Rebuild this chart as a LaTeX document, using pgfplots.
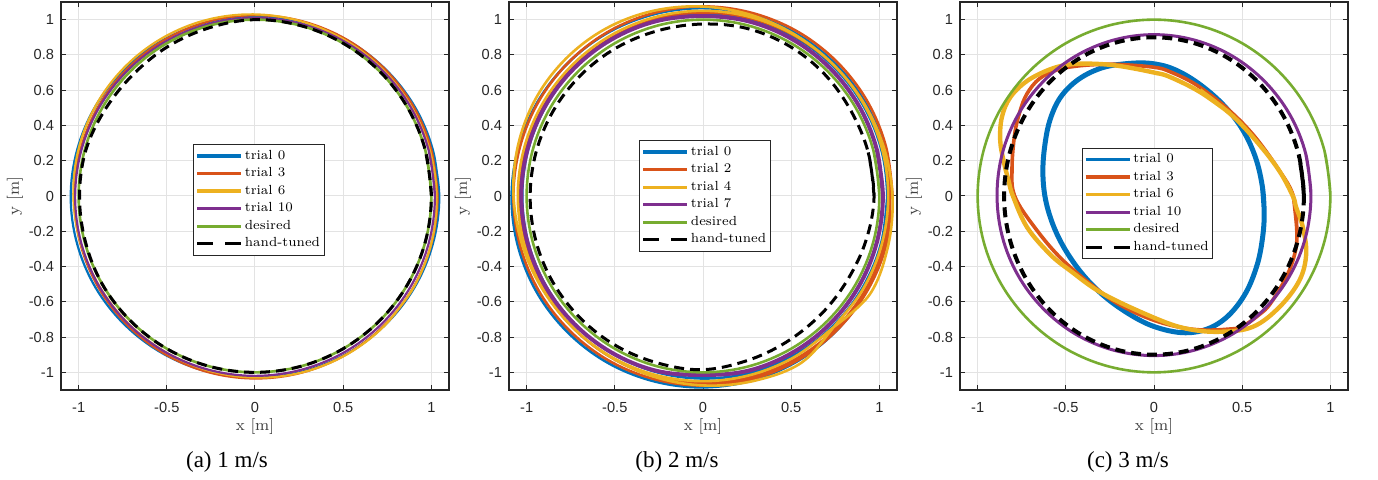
\documentclass[border=0pt]{standalone}
\usepackage{fontspec}
\usepackage{pgfplots}
\usepackage{pgfplotstable}
\pgfplotsset{compat=1.18}
\newfontfamily\ticksans{Liberation Sans}
\newfontfamily\capserif{Liberation Serif}
\definecolor{mblue}{HTML}{0072BD}
\definecolor{morange}{HTML}{D95319}
\definecolor{myellow}{HTML}{EDB120}
\definecolor{mpurple}{HTML}{7E2F8E}
\definecolor{mgreen}{HTML}{77AC30}
\definecolor{maxis}{HTML}{262626}
\definecolor{mgrid}{HTML}{E3E3E3}

% desired path: unit circle, sampled every 15 deg
\pgfplotstableread{
x y
1 0
0.966 0.259
0.866 0.5
0.707 0.707
0.5 0.866
0.259 0.966
0 1
-0.259 0.966
-0.5 0.866
-0.707 0.707
-0.866 0.5
-0.966 0.259
-1 0
-0.966 -0.259
-0.866 -0.5
-0.707 -0.707
-0.5 -0.866
-0.259 -0.966
0 -1
0.259 -0.966
0.5 -0.866
0.707 -0.707
0.866 -0.5
0.966 -0.259
1 0
0.966 0.259
}\desired

\pgfplotsset{
  circpanel/.style={
    scale only axis, width=194pt, height=194pt,
    xmin=-1.1, xmax=1.1, ymin=-1.1, ymax=1.1,
    xtick={-1,-0.5,0,0.5,1},
    ytick={-1,-0.8,-0.6,-0.4,-0.2,0,0.2,0.4,0.6,0.8,1},
    grid=major, grid style={mgrid, line width=0.5pt},
    axis line style={maxis, line width=0.6pt},
    tick style={maxis, line width=0.5pt},
    tick align=inside, major tick length=2.5pt,
    tick label style={font=\ticksans\fontsize{7.3}{8}\selectfont, text=maxis},
    /pgf/number format/assume math mode=true,
    xticklabel style={yshift=-2.5pt},
    xlabel={x [m]}, ylabel={y [m]},
    label style={font=\fontsize{8}{9}\selectfont, text=black!75},
    xlabel style={at={(axis description cs:0.5,-0.093)}, anchor=center},
    ylabel style={at={(axis description cs:-0.119,0.5)}, anchor=center},
    legend style={font=\fontsize{6.6}{8}\selectfont, draw=maxis, line width=0.5pt,
      fill=white, anchor=center, inner xsep=1pt, inner ysep=1.3pt, row sep=0pt,
      nodes={inner xsep=1.1pt, inner ysep=1.35pt},
      cells={anchor=west}},
    legend image code/.code={\draw[#1,line width=1.6pt] (0pt,0pt) -- (22pt,0pt);},
    every axis plot/.append style={smooth, tension=0.6, no markers},
  },
  tuned/.style={black, line width=#1, dash pattern=on 5pt off 3pt,
    legend image code/.code={\draw[black,line width=1.6pt,dash pattern=on 8pt off 6pt] (0pt,0pt) -- (22pt,0pt);}},
}

\begin{document}
\begin{tikzpicture}
\path[use as bounding box] (0,0) rectangle (689pt,-240pt);

% ---------------- (a) 1 m/s
\begin{axis}[circpanel, at={(30.5pt,-1pt)}, anchor=north west,
  legend style={at={(0.51,0.49)}}]
\addplot[mblue, line width=1.1pt] coordinates {(1.045,-0.005) (1.009,0.260) (0.905,0.508) (0.739,0.720) (0.523,0.883) (0.271,0.985) (0,1.02) (-0.271,0.985) (-0.523,0.883) (-0.739,0.720) (-0.905,0.508) (-1.009,0.260) (-1.045,-0.005) (-1.009,-0.270) (-0.905,-0.518) (-0.739,-0.730) (-0.523,-0.893) (-0.271,-0.995) (0,-1.03) (0.271,-0.995) (0.523,-0.893) (0.739,-0.730) (0.905,-0.518) (1.009,-0.270) (1.045,-0.005) (1.009,0.260)};
\addlegendentry{trial 0}
\addplot[morange, line width=1.1pt] coordinates {(1.035,-0.005) (1.0,0.262) (0.897,0.51) (0.733,0.723) (0.52,0.887) (0.272,0.99) (0.005,1.025) (-0.262,0.99) (-0.51,0.887) (-0.723,0.723) (-0.887,0.51) (-0.99,0.262) (-1.025,-0.005) (-0.99,-0.272) (-0.887,-0.52) (-0.723,-0.733) (-0.51,-0.897) (-0.262,-1.0) (0.005,-1.035) (0.272,-1.0) (0.52,-0.897) (0.733,-0.733) (0.897,-0.52) (1.0,-0.272) (1.035,-0.005) (1.0,0.262)};
\addlegendentry{trial 3}
\addplot[myellow, line width=1.1pt] coordinates {(0.735,-0.735) (0.897,-0.523) (0.998,-0.276) (1.030,-0.010) (0.992,0.256) (0.886,0.506) (0.721,0.721) (0.506,0.886) (0.256,0.992) (-0.010,1.030) (-0.276,0.998) (-0.523,0.897) (-0.735,0.735) (-0.897,0.523) (-0.998,0.276) (-1.030,0.010) (-0.992,-0.256) (-0.886,-0.506) (-0.721,-0.721) (-0.506,-0.886) (-0.256,-0.992) (0.010,-1.030) (0.276,-0.998) (0.523,-0.897) (0.735,-0.735) (0.897,-0.523)};
\addlegendentry{trial 6}
\addplot[mpurple, line width=1.1pt] coordinates {(1.02,-0.005) (0.985,0.258) (0.883,0.503) (0.721,0.713) (0.51,0.874) (0.264,0.975) (0,1.01) (-0.264,0.975) (-0.51,0.874) (-0.721,0.713) (-0.883,0.503) (-0.985,0.258) (-1.02,-0.005) (-0.985,-0.268) (-0.883,-0.513) (-0.721,-0.723) (-0.51,-0.884) (-0.264,-0.985) (0,-1.02) (0.264,-0.985) (0.51,-0.884) (0.721,-0.723) (0.883,-0.513) (0.985,-0.268) (1.02,-0.005) (0.985,0.258)};
\addlegendentry{trial 10}
\addplot[mgreen, line width=1.3pt] table {\desired};
\addlegendentry{desired}
\addplot[tuned=1.5pt] coordinates {(1,0) (0.966,0.259) (0.866,0.5) (0.707,0.707) (0.5,0.866) (0.259,0.966) (0,1) (-0.255,0.955) (-0.49,0.85) (-0.69,0.69) (-0.85,0.49) (-0.96,0.257) (-0.995,0) (-0.962,-0.258) (-0.866,-0.5) (-0.707,-0.707) (-0.5,-0.866) (-0.259,-0.966) (0,-1) (0.259,-0.966) (0.5,-0.866) (0.707,-0.707) (0.866,-0.5) (0.966,-0.259) (1,0) (0.966,0.259)};
\addlegendentry{hand-tuned}
\end{axis}

% ---------------- (b) 2 m/s
\begin{axis}[circpanel, at={(254.5pt,-1pt)}, anchor=north west,
  legend style={at={(0.505,0.5)}}]
\addplot[mblue, line width=1.3pt] coordinates {(1.065,-0.01) (1.028,0.268) (0.921,0.528) (0.75,0.75) (0.528,0.921) (0.268,1.028) (-0.01,1.065) (-0.288,1.028) (-0.548,0.921) (-0.77,0.75) (-0.941,0.528) (-1.048,0.268) (-1.085,-0.01) (-1.048,-0.288) (-0.941,-0.548) (-0.77,-0.77) (-0.548,-0.941) (-0.288,-1.048) (-0.01,-1.085) (0.268,-1.048) (0.528,-0.941) (0.75,-0.77) (0.921,-0.548) (1.028,-0.288) (1.045,0) (1.01,0.268) (0.906,0.518) (0.742,0.732) (0.528,0.896) (0.278,1.0) (0.01,1.035) (-0.258,1.0) (-0.508,0.896) (-0.722,0.732) (-0.886,0.518) (-0.99,0.268) (-1.025,0) (-0.99,-0.268) (-0.886,-0.518) (-0.722,-0.732) (-0.508,-0.896) (-0.258,-1.0) (0.01,-1.035) (0.278,-1.0) (0.528,-0.896) (0.742,-0.732) (0.906,-0.518) (1.01,-0.268) (1.045,0)};
\addlegendentry{trial 0}
\addplot[morange, line width=1.3pt] coordinates {(1.075,0) (1.038,0.278) (0.931,0.538) (0.76,0.76) (0.538,0.931) (0.278,1.038) (0,1.075) (-0.278,1.038) (-0.538,0.931) (-0.76,0.76) (-0.931,0.538) (-1.038,0.278) (-1.075,0) (-1.038,-0.278) (-0.931,-0.538) (-0.76,-0.76) (-0.538,-0.931) (-0.278,-1.038) (0,-1.075) (0.278,-1.038) (0.538,-0.931) (0.76,-0.76) (0.931,-0.538) (1.038,-0.278) (1.06,-0.01) (1.024,0.262) (0.919,0.515) (0.752,0.732) (0.535,0.899) (0.282,1.004) (0.01,1.04) (-0.262,1.004) (-0.515,0.899) (-0.732,0.732) (-0.899,0.515) (-1.004,0.262) (-1.04,-0.01) (-1.004,-0.282) (-0.899,-0.535) (-0.732,-0.752) (-0.515,-0.919) (-0.262,-1.024) (0.01,-1.06) (0.282,-1.024) (0.535,-0.919) (0.752,-0.752) (0.919,-0.535) (1.024,-0.282) (1.06,-0.01)};
\addlegendentry{trial 2}
\addplot[myellow, line width=1.3pt] coordinates {(0.742,-0.742) (0.944,-0.560) (1.045,-0.303) (1.075,-0.025) (1.032,0.254) (0.918,0.516) (0.742,0.742) (0.516,0.918) (0.254,1.032) (-0.025,1.075) (-0.303,1.045) (-0.560,0.944) (-0.778,0.778) (-0.944,0.560) (-1.045,0.303) (-1.075,0.025) (-1.032,-0.254) (-0.918,-0.516) (-0.742,-0.742) (-0.516,-0.918) (-0.254,-1.032) (0.025,-1.075) (0.303,-1.045) (0.560,-0.944) (0.742,-0.742) (0.909,-0.525) (1.014,-0.272) (1.05,0) (1.014,0.272) (0.909,0.525) (0.742,0.742) (0.525,0.909) (0.272,1.014) (0,1.05) (-0.272,1.014) (-0.525,0.909) (-0.742,0.742) (-0.909,0.525) (-1.014,0.272) (-1.05,0) (-1.014,-0.272) (-0.909,-0.525) (-0.742,-0.742) (-0.525,-0.909) (-0.272,-1.014) (0,-1.05) (0.272,-1.014) (0.525,-0.909) (0.742,-0.742)};
\addlegendentry{trial 4}
\addplot[mpurple, line width=2pt] coordinates {(1.02,0) (0.985,0.265) (0.883,0.513) (0.72,0.725) (0.508,0.888) (0.26,0.99) (-0.005,1.02) (-0.27,0.99) (-0.518,0.888) (-0.73,0.725) (-0.893,0.513) (-0.995,0.265) (-1.03,0) (-0.995,-0.265) (-0.893,-0.513) (-0.73,-0.725) (-0.518,-0.888) (-0.27,-0.99) (-0.005,-1.015) (0.26,-0.99) (0.508,-0.888) (0.72,-0.725) (0.883,-0.513) (0.985,-0.265) (1.02,0) (0.985,0.265)};
\addlegendentry{trial 7}
\addplot[mgreen, line width=1.3pt] table {\desired};
\addlegendentry{desired}
\addplot[tuned=1.5pt] coordinates {(0.970,-0.005) (0.937,0.247) (0.839,0.483) (0.69,0.69) (0.49,0.85) (0.25,0.95) (-0.005,0.975) (-0.257,0.937) (-0.493,0.839) (-0.694,0.684) (-0.849,0.483) (-0.947,0.247) (-0.98,-0.005) (-0.947,-0.257) (-0.849,-0.493) (-0.694,-0.694) (-0.493,-0.849) (-0.257,-0.947) (-0.005,-0.985) (0.245,-0.935) (0.47,-0.83) (0.67,-0.67) (0.82,-0.475) (0.925,-0.25) (0.970,-0.005) (0.937,0.247)};
\addlegendentry{hand-tuned}
\end{axis}

% ---------------- (c) 3 m/s
\begin{axis}[circpanel, at={(480pt,-1pt)}, anchor=north west,
  legend style={at={(0.483,0.481)}}]
\addplot[mblue, line width=2.5pt] coordinates {(0.625,-0.10) (0.615,0.05) (0.575,0.22) (0.50,0.38) (0.39,0.52) (0.25,0.64) (0.11,0.72) (-0.02,0.752) (-0.16,0.75) (-0.30,0.725) (-0.43,0.66) (-0.53,0.56) (-0.59,0.43) (-0.62,0.28) (-0.63,0.13) (-0.615,-0.02) (-0.57,-0.17) (-0.50,-0.31) (-0.40,-0.45) (-0.28,-0.57) (-0.14,-0.67) (0.0,-0.74) (0.16,-0.775) (0.30,-0.755) (0.42,-0.68) (0.52,-0.55) (0.585,-0.39) (0.615,-0.24) (0.625,-0.10) (0.615,0.05)};
\addlegendentry{trial 0}
\addplot[morange, line width=1.8pt] coordinates {(0.81,-0.20) (0.79,0.0) (0.70,0.16) (0.56,0.35) (0.41,0.50) (0.24,0.63) (0.09,0.705) (0.0,0.73) (-0.2,0.746) (-0.33,0.745) (-0.45,0.735) (-0.55,0.715) (-0.65,0.665) (-0.72,0.58) (-0.76,0.48) (-0.79,0.35) (-0.805,0.16) (-0.79,0.0) (-0.675,-0.18) (-0.515,-0.366) (-0.29,-0.554) (-0.15,-0.64) (0.0,-0.705) (0.15,-0.745) (0.28,-0.76) (0.42,-0.755) (0.50,-0.74) (0.60,-0.67) (0.66,-0.61) (0.75,-0.46) (0.80,-0.32) (0.81,-0.20) (0.79,0.0)};
\addlegendentry{trial 3}
\addplot[myellow, line width=2.2pt] coordinates {(0.43,0.47) (0.26,0.59) (0.09,0.675) (0.0,0.70) (-0.195,0.737) (-0.346,0.75) (-0.477,0.746) (-0.59,0.718) (-0.72,0.652) (-0.816,0.558) (-0.863,0.445) (-0.872,0.314) (-0.853,0.20) (-0.825,0.088) (-0.80,0.0) (-0.72,-0.177) (-0.59,-0.33) (-0.477,-0.422) (-0.29,-0.554) (0.0,-0.69) (0.183,-0.752) (0.371,-0.77) (0.56,-0.742) (0.712,-0.629) (0.825,-0.478) (0.863,-0.328) (0.844,-0.177) (0.806,-0.064) (0.787,0.0) (0.712,0.14) (0.598,0.29) (0.45,0.45) (0.26,0.60)};
\addlegendentry{trial 6}
\addplot[mpurple, line width=1.5pt] coordinates {(0.89,0.005) (0.86,0.241) (0.771,0.46) (0.629,0.648) (0.445,0.793) (0.23,0.884) (0,0.915) (-0.23,0.884) (-0.445,0.793) (-0.629,0.648) (-0.771,0.46) (-0.86,0.241) (-0.89,0.005) (-0.86,-0.231) (-0.771,-0.45) (-0.629,-0.638) (-0.445,-0.783) (-0.23,-0.874) (0,-0.905) (0.23,-0.874) (0.445,-0.783) (0.629,-0.638) (0.771,-0.45) (0.86,-0.231) (0.89,0.005) (0.86,0.241)};
\addlegendentry{trial 10}
\addplot[mgreen, line width=1.3pt] table {\desired};
\addlegendentry{desired}
\addplot[tuned=2pt] coordinates {(0.85,0) (0.821,0.233) (0.736,0.45) (0.601,0.636) (0.425,0.779) (0.22,0.869) (0,0.9) (-0.22,0.869) (-0.425,0.779) (-0.601,0.636) (-0.736,0.45) (-0.821,0.233) (-0.85,0) (-0.821,-0.233) (-0.736,-0.45) (-0.601,-0.636) (-0.425,-0.779) (-0.22,-0.869) (0,-0.9) (0.22,-0.869) (0.425,-0.779) (0.601,-0.636) (0.736,-0.45) (0.821,-0.233) (0.85,0) (0.821,0.233)};
\addlegendentry{hand-tuned}
\end{axis}

% sub-captions
\node[font=\capserif\fontsize{11.5}{13}\selectfont, anchor=base] at (113.5pt,-234pt) {(a) 1 m/s};
\node[font=\capserif\fontsize{11.5}{13}\selectfont, anchor=base] at (338.5pt,-234pt) {(b) 2 m/s};
\node[font=\capserif\fontsize{11.5}{13}\selectfont, anchor=base] at (564pt,-234pt) {(c) 3 m/s};
\end{tikzpicture}
\end{document}
